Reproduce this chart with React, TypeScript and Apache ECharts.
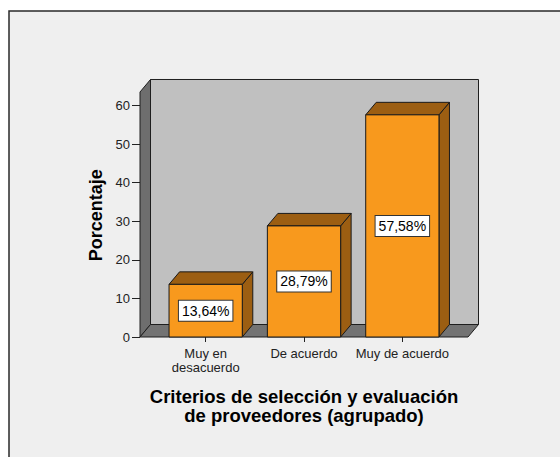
import React, { useEffect, useRef } from "react";
import * as echarts from "echarts";

// Categories, percentages and axis settings
const CATEGORIES = ["Muy en\ndesacuerdo", "De acuerdo", "Muy de acuerdo"];
const PERCENTAGES = [13.64, 28.79, 57.58];
const Y_MIN = 0;
const Y_MAX = 60;
const Y_INTERVAL = 10;
const WALL_TOP = 63.5; // value reached by the top edge of the walls
const X_TITLE = "Criterios de selección y evaluación\nde proveedores (agrupado)";
const Y_TITLE = "Porcentaje";

// 3D look: depth offset of walls and bars
const DX = 10.5;
const DY = -12.5;
const PAD = 16.5; // how far the floor extends beyond the category band
const FONT = '"Liberation Sans", Arial, sans-serif';

const fmt = (v: number) => v.toFixed(2).replace(".", ",") + "%";

export default function App() {
  const ref = useRef<HTMLDivElement>(null);

  useEffect(() => {
    if (!ref.current) return;
    const chart = echarts.init(ref.current, undefined, { renderer: "svg" });

    const option: any = {
      animation: false,
      backgroundColor: "#ffffff",
      graphic: [
        {
          type: "rect",
          z: -10,
          shape: { x: 9, y: 11, width: 600, height: 500 },
          style: { fill: "#efefef", stroke: "#2a2a2a", lineWidth: 1.5 },
        },
      ],
      grid: { left: 156.5, right: 108.5, top: 105.5, bottom: 120 },
      xAxis: {
        type: "category",
        data: CATEGORIES,
        name: X_TITLE,
        nameLocation: "middle",
        nameGap: 50,
        nameTextStyle: {
          fontFamily: FONT,
          fontWeight: "bold",
          fontSize: 18.5,
          lineHeight: 19,
          color: "#000",
        },
        axisLine: { show: false },
        axisTick: {
          show: true,
          alignWithLabel: true,
          length: 5,
          lineStyle: { color: "#222" },
        },
        axisLabel: {
          interval: 0,
          margin: 9,
          fontFamily: FONT,
          fontSize: 13,
          lineHeight: 14,
          color: "#222",
        },
        splitLine: { show: false },
      },
      yAxis: {
        type: "value",
        min: Y_MIN,
        max: Y_MAX,
        interval: Y_INTERVAL,
        offset: PAD,
        name: Y_TITLE,
        nameLocation: "middle",
        nameGap: 35,
        nameTextStyle: {
          fontFamily: FONT,
          fontWeight: "bold",
          fontSize: 18,
          lineHeight: 18,
          color: "#000",
          padding: [0, 0, 0, 12],
        },
        axisLine: { show: false },
        axisTick: { show: true, length: 8, lineStyle: { color: "#222" } },
        axisLabel: { margin: 10, fontFamily: FONT, fontSize: 13, color: "#222" },
        splitLine: { show: false },
      },
      series: [
        {
          // left wall, back wall and floor
          type: "custom",
          z: 1,
          silent: true,
          data: [[0, 0]],
          renderItem: (params: any, api: any) => {
            const cs = params.coordSys;
            const left = cs.x - PAD;
            const right = cs.x + cs.width + PAD;
            const y0 = api.coord([0, Y_MIN])[1];
            const yT = api.coord([0, WALL_TOP])[1];
            const line = { stroke: "#1e1e1e", lineWidth: 1 };
            return {
              type: "group",
              children: [
                {
                  type: "polygon",
                  shape: {
                    points: [
                      [left + DX, yT + DY],
                      [right + DX, yT + DY],
                      [right + DX, y0 + DY],
                      [left + DX, y0 + DY],
                    ],
                  },
                  style: { fill: "#c0c0c0", ...line },
                },
                {
                  type: "polygon",
                  shape: {
                    points: [
                      [left, y0],
                      [left, yT],
                      [left + DX, yT + DY],
                      [left + DX, y0 + DY],
                    ],
                  },
                  style: { fill: "#6e6e6e", ...line },
                },
                {
                  type: "polygon",
                  shape: {
                    points: [
                      [left, y0],
                      [left + DX, y0 + DY],
                      [right + DX, y0 + DY],
                      [right, y0],
                    ],
                  },
                  style: { fill: "#737373", ...line },
                },
              ],
            };
          },
        },
        {
          // 3D bars with value boxes
          type: "custom",
          z: 2,
          data: PERCENTAGES.map((v, i) => [i, v]),
          renderItem: (params: any, api: any) => {
            const idx = api.value(0);
            const val = api.value(1);
            const top = api.coord([idx, val]);
            const y0 = api.coord([idx, Y_MIN])[1];
            const band = api.size([1, 0])[0];
            const w = band * 0.745;
            const l = top[0] - w / 2;
            const r = top[0] + w / 2;
            const yv = top[1];
            const line = { stroke: "#1a1a1a", lineWidth: 1 };
            return {
              type: "group",
              children: [
                {
                  type: "polygon",
                  shape: {
                    points: [
                      [r, yv],
                      [r + DX, yv + DY],
                      [r + DX, y0 + DY],
                      [r, y0],
                    ],
                  },
                  style: { fill: "#9c5e12", ...line },
                },
                {
                  type: "polygon",
                  shape: {
                    points: [
                      [l, yv],
                      [l + DX, yv + DY],
                      [r + DX, yv + DY],
                      [r, yv],
                    ],
                  },
                  style: { fill: "#9c5e12", ...line },
                },
                {
                  type: "rect",
                  shape: { x: l, y: yv, width: w, height: y0 - yv },
                  style: { fill: "#f8991d", ...line },
                },
                {
                  type: "text",
                  x: top[0],
                  y: (yv + y0) / 2,
                  style: {
                    text: fmt(val),
                    font: `14px ${FONT}`,
                    fill: "#000",
                    align: "center",
                    verticalAlign: "middle",
                    backgroundColor: "#ffffff",
                    borderColor: "#333",
                    borderWidth: 1,
                    padding: [3, 3],
                  },
                },
              ],
            };
          },
        },
      ],
    };

    chart.setOption(option);
    return () => chart.dispose();
  }, []);

  return (
    <div
      ref={ref}
      style={{ position: "fixed", left: 0, top: 0, width: 560, height: 457 }}
    />
  );
}
